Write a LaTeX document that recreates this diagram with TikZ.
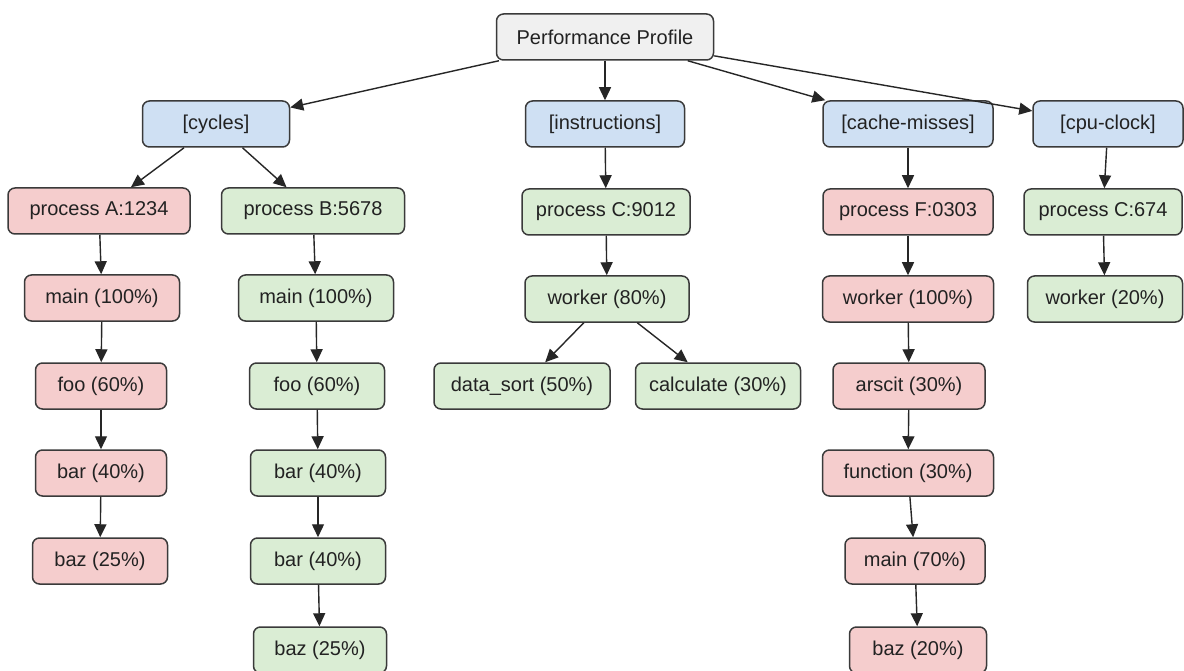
\documentclass[tikz,border=0pt]{standalone}
\usepackage{fontspec}
\setmainfont{Liberation Sans}
\usetikzlibrary{arrows.meta}
\definecolor{bluefill}{HTML}{CFE0F3}
\definecolor{redfill}{HTML}{F5CDCD}
\definecolor{greenfill}{HTML}{DAEDD4}
\definecolor{grayfill}{HTML}{F0F0F0}
\definecolor{edgecol}{HTML}{3A3A3A}
\definecolor{textcol}{HTML}{222222}
\tikzset{
  box/.style={draw=edgecol, line width=1.5pt, rounded corners=7pt, minimum height=46pt,
    inner sep=2pt, text=textcol, font=\fontsize{20}{24}\selectfont},
  rootbox/.style={box, fill=grayfill},
  evbox/.style={box, fill=bluefill},
  redbox/.style={box, fill=redfill},
  grnbox/.style={box, fill=greenfill},
  conn/.style={draw=black!85, line width=1.4pt, -{Triangle[length=13pt,width=12pt]}},
}
\begin{document}
\begin{tikzpicture}[x=1pt,y=-1pt]
\useasboundingbox[fill=white] (0,0) rectangle (1184,671);
\node[rootbox, minimum width=217pt] (pp) at (605,37) {Performance Profile};
\node[evbox, minimum width=147pt] (cyc) at (216,124) {[cycles]};
\node[evbox, minimum width=159pt] (ins) at (605,124) {[instructions]};
\node[evbox, minimum width=170pt] (cm) at (908,124) {[cache-misses]};
\node[evbox, minimum width=150pt] (cpu) at (1108,124) {[cpu-clock]};
% cycles column A
\node[redbox, minimum width=182pt] (pa) at (99,211) {process A:1234};
\node[redbox, minimum width=155pt] (ma) at (102,298) {main (100\%)};
\node[redbox, minimum width=131pt] (fa) at (101,386) {foo (60\%)};
\node[redbox, minimum width=131pt] (ba) at (101,473) {bar (40\%)};
\node[redbox, minimum width=135pt] (za) at (100,561) {baz (25\%)};
% cycles column B
\node[grnbox, minimum width=183pt] (pb) at (313,211) {process B:5678};
\node[grnbox, minimum width=155pt] (mb) at (316,298) {main (100\%)};
\node[grnbox, minimum width=135pt] (fb) at (317,386) {foo (60\%)};
\node[grnbox, minimum width=135pt] (bb) at (318,473) {bar (40\%)};
\node[grnbox, minimum width=135pt] (bb2) at (318,561) {bar (40\%)};
\node[grnbox, minimum width=133pt] (zb) at (320,650) {baz (25\%)};
% instructions
\node[grnbox, minimum width=168pt] (pc) at (606,212) {process C:9012};
\node[grnbox, minimum width=164pt] (wc) at (607,299) {worker (80\%)};
\node[grnbox, minimum width=176pt] (ds) at (522,386) {data\_sort (50\%)};
\node[grnbox, minimum width=165pt] (ca) at (718,386) {calculate (30\%)};
% cache-misses
\node[redbox, minimum width=170pt] (pf) at (908,212) {process F:0303};
\node[redbox, minimum width=171pt] (wf) at (908,299) {worker (100\%)};
\node[redbox, minimum width=152pt] (ar) at (909,386) {arscit (30\%)};
\node[redbox, minimum width=171pt] (fn) at (908,473) {function (30\%)};
\node[redbox, minimum width=140pt] (mf) at (915,561) {main (70\%)};
\node[redbox, minimum width=137pt] (zf) at (918,650) {baz (20\%)};
% cpu-clock
\node[grnbox, minimum width=158pt] (pc2) at (1103,212) {process C:674};
\node[grnbox, minimum width=155pt] (wc2) at (1105,299) {worker (20\%)};
% connectors
\draw[conn] (pp) -- (cyc);
\draw[conn] (pp) -- (ins);
\draw[conn] (pp) -- (cm);
\draw[conn] (pp) -- (cpu);
\draw[conn] (cyc) -- (pa);
\draw[conn] (cyc) -- (pb);
\draw[conn] (pa) -- (ma);
\draw[conn] (ma) -- (fa);
\draw[conn] (fa) -- (ba);
\draw[conn] (ba) -- (za);
\draw[conn] (pb) -- (mb);
\draw[conn] (mb) -- (fb);
\draw[conn] (fb) -- (bb);
\draw[conn] (bb) -- (bb2);
\draw[conn] (bb2) -- (zb);
\draw[conn] (ins) -- (pc);
\draw[conn] (pc) -- (wc);
\draw[conn] (wc) -- (ds);
\draw[conn] (wc) -- (ca);
\draw[conn] (cm) -- (pf);
\draw[conn] (pf) -- (wf);
\draw[conn] (wf) -- (ar);
\draw[conn] (ar) -- (fn);
\draw[conn] (fn) -- (mf);
\draw[conn] (mf) -- (zf);
\draw[conn] (cpu) -- (pc2);
\draw[conn] (pc2) -- (wc2);
\end{tikzpicture}
\end{document}
